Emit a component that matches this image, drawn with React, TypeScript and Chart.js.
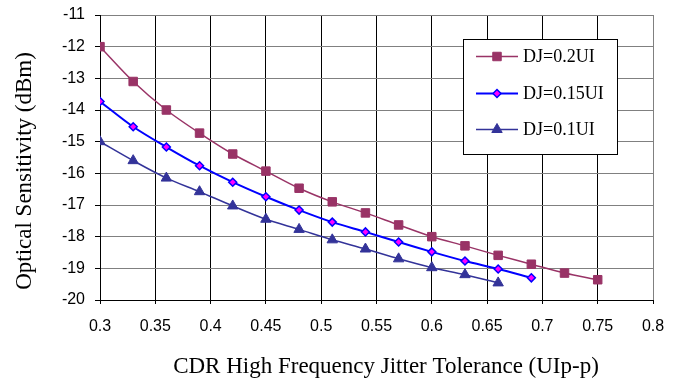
import React, { useEffect, useRef } from "react";
import { Chart, registerables } from "chart.js";

Chart.register(...registerables);

const xValues = [0.3, 0.33, 0.36, 0.39, 0.42, 0.45, 0.48, 0.51, 0.54, 0.57, 0.6, 0.63, 0.66, 0.69, 0.72, 0.75];
const dj02 = [-12.0, -13.1, -14.0, -14.73, -15.39, -15.93, -16.47, -16.9, -17.25, -17.63, -18.0, -18.29, -18.59, -18.87, -19.15, -19.36];
const dj015 = [-13.73, -14.53, -15.17, -15.76, -16.28, -16.74, -17.16, -17.54, -17.85, -18.17, -18.48, -18.77, -19.02, -19.3];
const dj01 = [-15.0, -15.6, -16.15, -16.58, -17.03, -17.45, -17.77, -18.1, -18.39, -18.7, -18.98, -19.2, -19.46];

const seriesNames = ["DJ=0.2UI", "DJ=0.15UI", "DJ=0.1UI"];
const xTickLabels = ["0.3", "0.35", "0.4", "0.45", "0.5", "0.55", "0.6", "0.65", "0.7", "0.75", "0.8"];
const yTickLabels = ["-20", "-19", "-18", "-17", "-16", "-15", "-14", "-13", "-12", "-11"];
const xTitle = "CDR High Frequency Jitter Tolerance (UIp-p)";
const yTitle = "Optical Sensitivity (dBm)";

const SERIF = "'Liberation Serif', 'Times New Roman', serif";
const SANS = "'Liberation Sans', Arial, sans-serif";

const toPoints = (ys: number[]) => ys.map((y, i) => ({ x: xValues[i], y }));

function drawMarker(ctx: CanvasRenderingContext2D, style: string, x: number, y: number, r: number) {
  ctx.beginPath();
  if (style === "rect") {
    const s = Math.SQRT1_2 * r;
    ctx.rect(x - s, y - s, 2 * s, 2 * s);
  } else if (style === "rectRot") {
    ctx.moveTo(x - r, y);
    ctx.lineTo(x, y - r);
    ctx.lineTo(x + r, y);
    ctx.lineTo(x, y + r);
    ctx.closePath();
  } else {
    const c = Math.cos(Math.PI / 6) * r;
    ctx.moveTo(x - c, y + r / 2);
    ctx.lineTo(x + c, y + r / 2);
    ctx.lineTo(x, y - r);
    ctx.closePath();
  }
  ctx.fill();
  ctx.stroke();
}

const overlayPlugin = {
  id: "overlay",
  afterDraw(chart: any) {
    const ctx = chart.ctx as CanvasRenderingContext2D;
    ctx.save();
    ctx.fillStyle = "#000";
    ctx.font = `23px ${SERIF}`;
    ctx.textAlign = "center";
    ctx.textBaseline = "alphabetic";
    ctx.fillText(xTitle, 386, 373);
    ctx.translate(31, 171);
    ctx.rotate(-Math.PI / 2);
    ctx.fillText(yTitle, 0, 0);
    ctx.restore();

    ctx.save();
    const bx = 463.5, by = 39.5, bw = 154, bh = 115;
    ctx.fillStyle = "#fff";
    ctx.fillRect(bx, by, bw, bh);
    ctx.strokeStyle = "#000";
    ctx.lineWidth = 1;
    ctx.strokeRect(bx, by, bw, bh);
    const rows = [56.5, 93.5, 129.5];
    chart.data.datasets.forEach((ds: any, i: number) => {
      const y = rows[i];
      ctx.strokeStyle = ds.borderColor;
      ctx.lineWidth = ds.borderWidth;
      ctx.beginPath();
      ctx.moveTo(476, y);
      ctx.lineTo(518, y);
      ctx.stroke();
      ctx.lineWidth = ds.pointBorderWidth;
      ctx.strokeStyle = ds.pointBorderColor;
      ctx.fillStyle = ds.pointBackgroundColor;
      drawMarker(ctx, ds.pointStyle, 497, y, ds.pointRadius);
      ctx.fillStyle = "#000";
      ctx.font = `18px ${SERIF}`;
      ctx.textAlign = "left";
      ctx.textBaseline = "middle";
      ctx.fillText(seriesNames[i], 523, y + 1);
    });
    ctx.restore();
  },
};

export default function App() {
  const ref = useRef<HTMLCanvasElement>(null);
  useEffect(() => {
    const canvas = ref.current!;
    const chart = new Chart(canvas, {
      type: "line",
      data: {
        datasets: [
          {
            label: seriesNames[0],
            data: toPoints(dj02),
            borderColor: "#993366",
            backgroundColor: "#993366",
            borderWidth: 1.5,
            pointStyle: "rect",
            pointRadius: 6,
            pointBackgroundColor: "#993366",
            pointBorderColor: "#993366",
            pointBorderWidth: 1,
            tension: 0.3,
          },
          {
            label: seriesNames[1],
            data: toPoints(dj015),
            borderColor: "#0000FF",
            backgroundColor: "#FF00FF",
            borderWidth: 2,
            pointStyle: "rectRot",
            pointRadius: 4,
            pointBackgroundColor: "#FF00FF",
            pointBorderColor: "#0000FF",
            pointBorderWidth: 1.5,
            tension: 0.3,
          },
          {
            label: seriesNames[2],
            data: toPoints(dj01),
            borderColor: "#333399",
            backgroundColor: "#333399",
            borderWidth: 1.5,
            pointStyle: "triangle",
            pointRadius: 6,
            pointBackgroundColor: "#333399",
            pointBorderColor: "#333399",
            pointBorderWidth: 1,
            tension: 0.3,
          },
        ],
      },
      options: {
        responsive: false,
        animation: false,
        devicePixelRatio: 1,
        layout: { padding: { left: 0, top: 15, right: 28, bottom: 0 } },
        plugins: { legend: { display: false }, tooltip: { enabled: false } },
        scales: {
          x: {
            type: "linear",
            min: 0.3,
            max: 0.8,
            afterFit: (s: any) => {
              s.height = 81;
              s.paddingLeft = 0;
              s.paddingRight = 0;
            },
            afterBuildTicks: (s: any) => {
              s.ticks = xTickLabels.map((l) => ({ value: parseFloat(l) }));
            },
            ticks: {
              padding: 13,
              color: "#000",
              font: { family: SANS, size: 16 },
              maxRotation: 0,
              autoSkip: false,
              callback: (_v: any, i: number) => xTickLabels[i],
            },
            grid: {
              color: (c: any) => (c.tick && Math.abs(c.tick.value - 0.8) < 1e-6 ? "#808080" : "#000"),
              lineWidth: 1,
              tickLength: 4,
              tickColor: "#000",
            },
            border: { color: "#000", width: 1 },
          },
          y: {
            type: "linear",
            min: -20,
            max: -11,
            afterFit: (s: any) => {
              s.width = 100;
              s.paddingTop = 0;
              s.paddingBottom = 0;
            },
            afterBuildTicks: (s: any) => {
              s.ticks = yTickLabels.map((l) => ({ value: parseFloat(l) }));
            },
            ticks: {
              padding: 10,
              color: "#000",
              font: { family: SANS, size: 16 },
              autoSkip: false,
              callback: (_v: any, i: number) => yTickLabels[i],
            },
            grid: {
              color: "#808080",
              lineWidth: 1,
              tickLength: 5,
              tickColor: "#000",
            },
            border: { color: "#000", width: 1 },
          },
        },
      },
      plugins: [overlayPlugin],
    });
    return () => chart.destroy();
  }, []);
  return (
    <div style={{ position: "fixed", left: 0, top: 0, width: 681, height: 381, background: "#fff" }}>
      <canvas ref={ref} width={681} height={381} />
    </div>
  );
}
